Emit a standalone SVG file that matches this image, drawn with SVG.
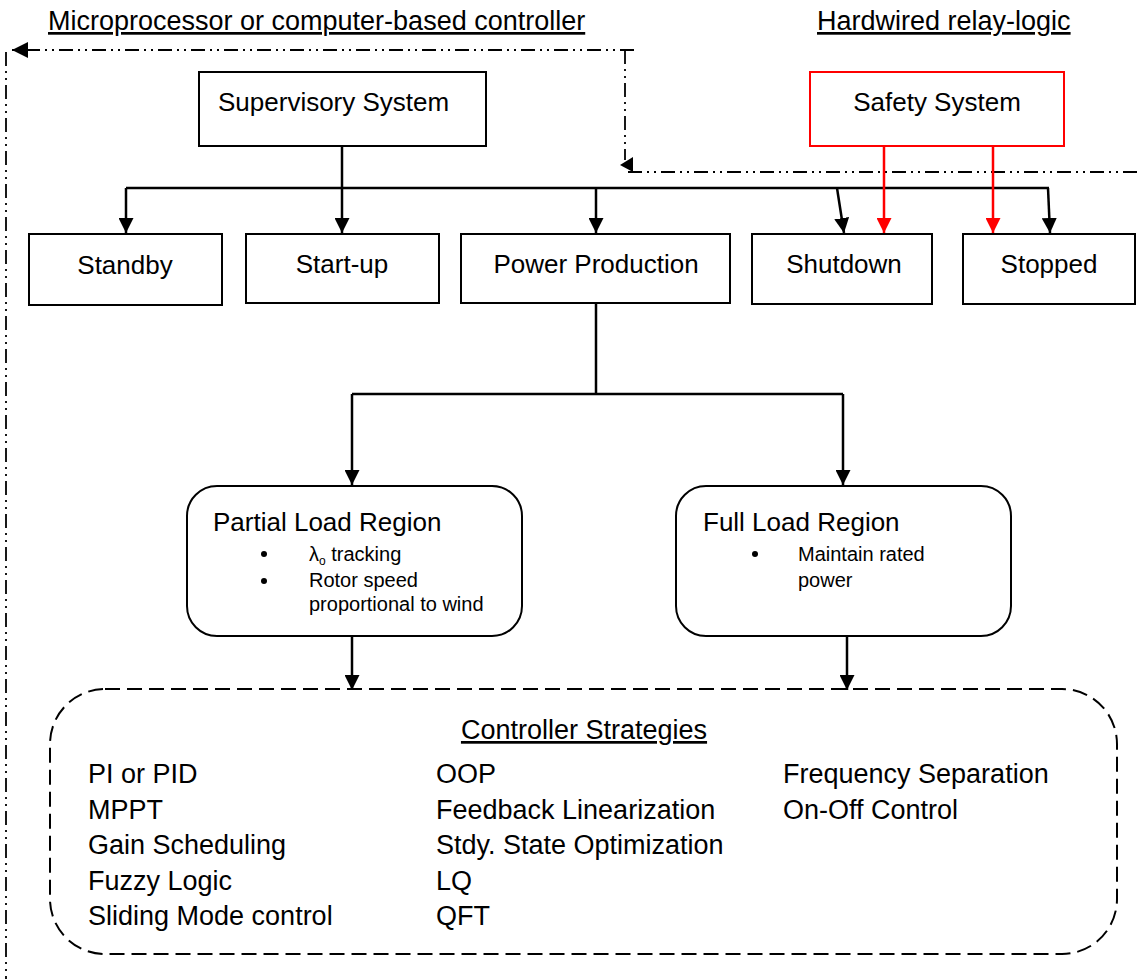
<svg xmlns="http://www.w3.org/2000/svg" width="1137" height="979" viewBox="0 0 1137 979">
<defs>
<marker id="ah" viewBox="0 0 10 10" refX="10" refY="5" markerWidth="6" markerHeight="6" orient="auto" markerUnits="strokeWidth"><path d="M0,0 L10,5 L0,10 z" fill="#000"/></marker>
<marker id="ahr" viewBox="0 0 10 10" refX="10" refY="5" markerWidth="6" markerHeight="6" orient="auto" markerUnits="strokeWidth"><path d="M0,0 L10,5 L0,10 z" fill="#ff0000"/></marker>
<marker id="ahd" viewBox="0 0 10 10" refX="10" refY="5" markerWidth="9" markerHeight="9" orient="auto" markerUnits="strokeWidth"><path d="M0,0 L10,5 L0,10 z" fill="#000"/></marker>
</defs>
<style>
text{font-family:"Liberation Sans",Arial,sans-serif;fill:#000}
.hdr{font-size:27px}
.lbl{font-size:26px}
.lst{font-size:27px}
.ttl{font-size:26px}
.sm{font-size:20px}
.box{fill:#fff;stroke:#000;stroke-width:2}
.red{fill:#fff;stroke:#ff0000;stroke-width:2}
.ln{fill:none;stroke:#000;stroke-width:2.5}
.rln{fill:none;stroke:#ff0000;stroke-width:2.5}
.dd{fill:none;stroke:#000;stroke-width:1.8;stroke-dasharray:14 5 2 5 2 5}
.dash{fill:none;stroke:#000;stroke-width:2;stroke-dasharray:15 7}
</style>

<g id="headers">
<text x="48" y="30" class="hdr" text-decoration="underline">Microprocessor or computer-based controller</text>
<text x="817" y="30" class="hdr" text-decoration="underline">Hardwired relay-logic</text>
</g>

<g id="connectors">
<path class="dd" d="M634,50 L12,50" marker-end="url(#ahd)"/>
<path class="dd" d="M6,52 L6,979"/>
<path class="dd" d="M625,50 L625,160"/>
<path class="dd" d="M1137,172 L625,172"/>
<path d="M633,157 L620,165 L633,172 z" fill="#000"/>
<path class="ln" d="M342,146 L342,188"/>
<path class="ln" d="M126,188 L1049,188"/>
<path class="ln" d="M126,188 L126,233" marker-end="url(#ah)"/>
<path class="ln" d="M342,188 L342,233" marker-end="url(#ah)"/>
<path class="ln" d="M596,188 L596,233" marker-end="url(#ah)"/>
<path class="ln" d="M837,188 L844,233" marker-end="url(#ah)"/>
<path class="ln" d="M1048,188 L1050,233" marker-end="url(#ah)"/>
<path class="rln" d="M884,146 L884,233" marker-end="url(#ahr)"/>
<path class="rln" d="M993,146 L993,233" marker-end="url(#ahr)"/>
<path class="ln" d="M596,303 L596,394"/>
<path class="ln" d="M352,394 L843,394"/>
<path class="ln" d="M352,394 L352,485" marker-end="url(#ah)"/>
<path class="ln" d="M843,394 L843,485" marker-end="url(#ah)"/>
<path class="ln" d="M352,636 L352,690" marker-end="url(#ah)"/>
<path class="ln" d="M847,636 L847,690" marker-end="url(#ah)"/>
</g>

<g id="supervisory">
<rect x="199" y="72" width="287" height="74" class="box"/>
<text x="218" y="111" class="lbl">Supervisory System</text>
</g>
<g id="safety">
<rect x="810" y="72" width="254" height="74" class="red"/>
<text x="937" y="111" class="lbl" text-anchor="middle">Safety System</text>
</g>
<g id="standby">
<rect x="29" y="234" width="193" height="71" class="box"/>
<text x="125" y="274" class="lbl" text-anchor="middle">Standby</text>
</g>
<g id="startup">
<rect x="246" y="234" width="193" height="69" class="box"/>
<text x="342" y="273" class="lbl" text-anchor="middle">Start-up</text>
</g>
<g id="power">
<rect x="461" y="234" width="269" height="69" class="box"/>
<text x="596" y="273" class="lbl" text-anchor="middle">Power Production</text>
</g>
<g id="shutdown">
<rect x="752" y="234" width="180" height="70" class="box"/>
<text x="844" y="273" class="lbl" text-anchor="middle">Shutdown</text>
</g>
<g id="stopped">
<rect x="963" y="234" width="172" height="70" class="box"/>
<text x="1049" y="273" class="lbl" text-anchor="middle">Stopped</text>
</g>

<g id="partial">
<rect x="187" y="486" width="335" height="150" rx="30" class="box"/>
<text x="213" y="531" class="ttl">Partial Load Region</text>
<circle cx="264" cy="554" r="3"/>
<circle cx="264" cy="581" r="3"/>
<text x="309" y="561" class="sm">λ<tspan font-size="12" dy="4">o</tspan><tspan dy="-4"> tracking</tspan></text>
<text x="309" y="587" class="sm">Rotor speed</text>
<text x="309" y="611" class="sm">proportional to wind</text>
</g>

<g id="full">
<rect x="676" y="486" width="335" height="150" rx="30" class="box"/>
<text x="703" y="531" class="ttl">Full Load Region</text>
<circle cx="755" cy="554" r="3"/>
<text x="798" y="561" class="sm">Maintain rated</text>
<text x="798" y="587" class="sm">power</text>
</g>

<g id="strategies">
<rect x="50" y="689" width="1067" height="265" rx="55" class="dash"/>
<text x="584" y="739" class="lst" text-anchor="middle" text-decoration="underline">Controller Strategies</text>
<text x="88" y="783" class="lst">PI or PID</text>
<text x="88" y="819" class="lst">MPPT</text>
<text x="88" y="854" class="lst">Gain Scheduling</text>
<text x="88" y="890" class="lst">Fuzzy Logic</text>
<text x="88" y="925" class="lst">Sliding Mode control</text>
<text x="436" y="783" class="lst">OOP</text>
<text x="436" y="819" class="lst">Feedback Linearization</text>
<text x="436" y="854" class="lst">Stdy. State Optimization</text>
<text x="436" y="890" class="lst">LQ</text>
<text x="436" y="925" class="lst">QFT</text>
<text x="783" y="783" class="lst">Frequency Separation</text>
<text x="783" y="819" class="lst">On-Off Control</text>
</g>
</svg>
